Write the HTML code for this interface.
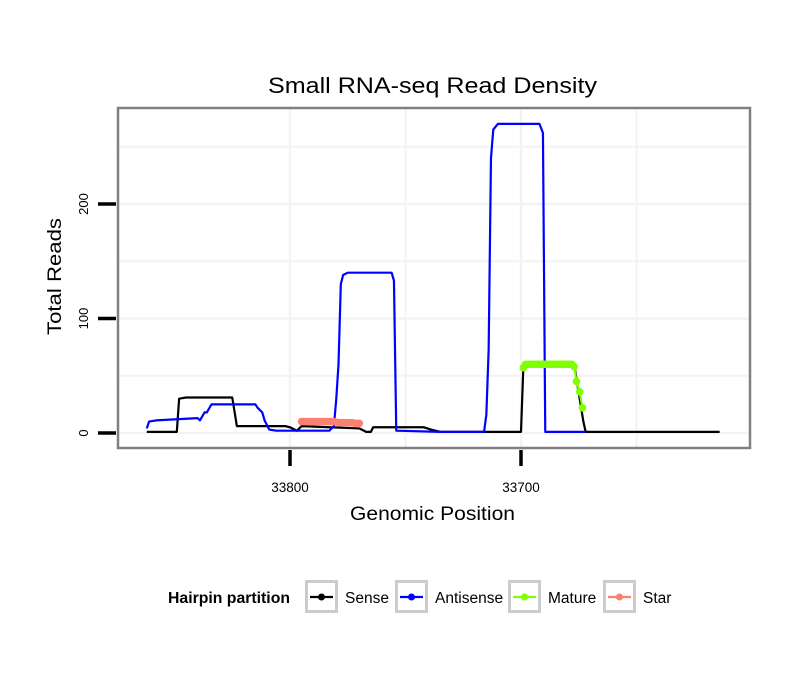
<!DOCTYPE html>
<html><head><meta charset="utf-8"><style>
body{margin:0;background:#fff;font-family:"Liberation Sans",sans-serif}
</style></head><body>
<svg id="c" width="810" height="690" xmlns="http://www.w3.org/2000/svg" font-family="Liberation Sans, sans-serif">
<rect width="810" height="690" fill="#fff"/>
<g id="grid"></g>
<g id="marks"></g>
<rect x="118" y="108" width="632" height="340" fill="none" stroke="#808080" stroke-width="2.5"/>
<g id="axes"></g>
<text x="268" y="93" font-size="22" textLength="329" lengthAdjust="spacingAndGlyphs">Small RNA-seq Read Density</text>
<text x="350" y="520" font-size="19" textLength="165" lengthAdjust="spacingAndGlyphs">Genomic Position</text>
<text transform="translate(61,335) rotate(-90)" font-size="19" textLength="117" lengthAdjust="spacingAndGlyphs">Total Reads</text>
<g>
<text x="168" y="603" font-size="15.5" font-weight="bold" textLength="122" lengthAdjust="spacingAndGlyphs">Hairpin partition</text>
<g id="legend"></g>
</g>
</svg>
<script>
const senseX=[33862,33849,33848,33845,33825,33823,33822,33802,33800,33797,33795,33770,33767,33765,33764,33742,33739,33735,33700,33699,33698,33677,33673,33672,33614];
const senseY=[1,1,30,31,31,6,6,6,5,2,6,4,1,1,5,5,3,1,1,57,60,60,10,1,1];
const antiX=[33862,33861,33858,33840,33839,33837,33836,33834,33815,33814,33812,33811,33809,33806,33783,33781,33780,33779,33778,33777,33775,33756,33755,33754,33735,33716,33715,33714,33713,33712,33710,33692,33690.5,33689.5,33672];
const antiY=[4,10,11,13,11,18,18,25,25,22,18,11,3,2,2,6,29,60,130,138,140,140,133,2,1,1,16,73,240,265,270,270,262,1,1];
const matureX=[33699,33698,33697,33696,33695,33694,33693,33692,33691,33690,33689,33688,33687,33686,33685,33684,33683,33682,33681,33680,33679,33678,33677,33676,33674.6,33673.4];
const matureY=[57,60,60,60,60,60,60,60,60,60,60,60,60,60,60,60,60,60,60,60,60,60,58,45,36,22];
const starX=[33795,33794,33793,33792,33791,33790,33789,33788,33787,33786,33785,33784,33783,33782,33781,33780,33779,33778,33777,33776,33775,33774,33773,33772,33771,33770];
const starY=[10,10,10,10,10,10,10,10,10,10,10,10,10,10,10,9.5,9,9,9,9,9,9,9,8.5,8.5,8.5];
const xTicks=[33800,33700];
const yTicks=[0,100,200];
const xMinor=[33750,33650];
const yMinor=[50,150,250];
const legendNames=["Sense","Antisense","Mature","Star"];
const legendColors=["#000000","#0000ff","#7fff00","#fa8072"];

const X=v=>290+(33800-v)*2.31;
const Y=v=>433-v*1.145;
const NS="http://www.w3.org/2000/svg";
function mk(t,a,p){const e=document.createElementNS(NS,t);for(const k in a)e.setAttribute(k,a[k]);p.appendChild(e);return e;}
const grid=document.getElementById('grid'),marks=document.getElementById('marks'),axes=document.getElementById('axes'),leg=document.getElementById('legend');
xMinor.concat(xTicks).forEach(v=>{const l=mk('line',{x1:X(v),x2:X(v),y1:108,y2:448,stroke:'#f3f3f3','stroke-width':xTicks.includes(v)?2.5:2},grid);

});
yMinor.concat(yTicks).forEach(v=>{const l=mk('line',{x1:118,x2:750,y1:Y(v),y2:Y(v),stroke:'#f3f3f3','stroke-width':yTicks.includes(v)?2.5:2},grid);

});
function line(xs,ys,col,name,w){const p=mk('polyline',{points:xs.map((x,i)=>X(x)+','+Y(ys[i])).join(' '),fill:'none',stroke:col,'stroke-width':w||2.2,'stroke-linejoin':'round'},marks);

}
function pts(xs,ys,col,name){xs.forEach((x,i)=>{const c=mk('circle',{cx:X(x),cy:Y(ys[i]),r:3.8,fill:col},marks);

});}
line(senseX,senseY,'#000','sense-line');
line(antiX,antiY,'#0000ff','antisense-line');
line(matureX,matureY,'#7fff00','mature-line');
pts(matureX,matureY,'#7fff00','mature-point');
line(starX,starY,'#fa8072','star-line');
pts(starX,starY,'#fa8072','star-point');
yTicks.forEach(v=>{const t=mk('line',{x1:98,x2:116,y1:Y(v),y2:Y(v),stroke:'#000','stroke-width':3.5},axes);


const s=mk('text',{transform:`translate(88,${Y(v)}) rotate(-90)`,'font-size':13,'text-anchor':'middle'},axes);s.textContent=v;

});
xTicks.forEach(v=>{const t=mk('line',{x1:X(v),x2:X(v),y1:450,y2:466,stroke:'#000','stroke-width':3.5},axes);


const s=mk('text',{x:X(v),y:492,'font-size':13.5,'text-anchor':'middle'},axes);s.textContent=v;

});
const kx=[305,395,508,603];
legendNames.forEach((n,i)=>{const g=mk('g',{},leg);


mk('rect',{x:kx[i]+1.5,y:581.5,width:30,height:30,fill:'#fff',stroke:'#cccccc','stroke-width':3},g);
mk('line',{x1:kx[i]+5,x2:kx[i]+28,y1:597,y2:597,stroke:legendColors[i],'stroke-width':2.2},g);
mk('circle',{cx:kx[i]+16.5,cy:597,r:3.5,fill:legendColors[i]},g);
const t=mk('text',{x:kx[i]+40,y:603,'font-size':15.5},g);t.textContent=n;});
</script>
</body></html>
